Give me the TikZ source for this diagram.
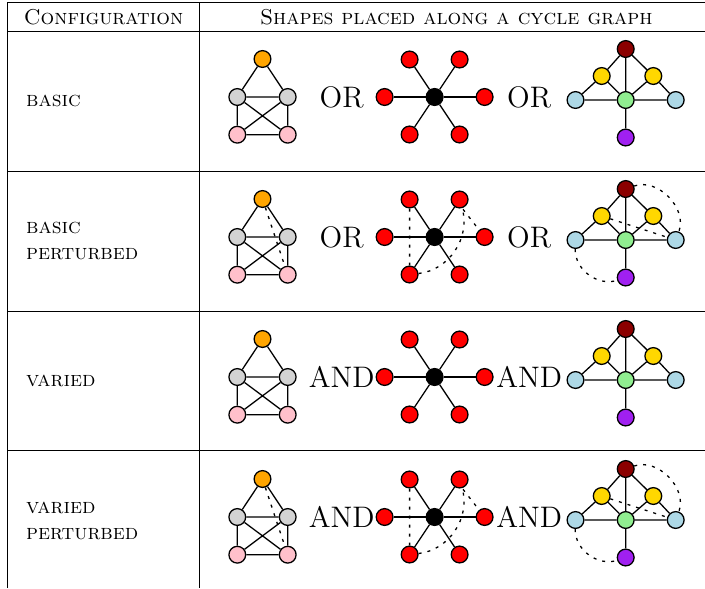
\documentclass[tikz,border=0pt]{standalone}
\usepackage{tikz}
\usepackage{xcolor}
\usetikzlibrary{arrows,calc,positioning}
\definecolor{vorange}{RGB}{255,165,0}
\definecolor{vgray}{RGB}{211,211,211}
\definecolor{vpink}{RGB}{255,192,203}
\definecolor{vred}{RGB}{255,0,0}
\definecolor{vdarkred}{RGB}{139,0,0}
\definecolor{vgold}{RGB}{255,215,0}
\definecolor{vgreen}{RGB}{144,238,144}
\definecolor{vblue}{RGB}{173,216,230}
\definecolor{vpurple}{RGB}{160,32,240}
\tikzset{%
	vertex/.style    = {draw, circle, semithick, inner sep=0pt, minimum size=7.8pt},
	link/.style      = {semithick},
	extralink/.style = {semithick, dash pattern=on 1.4pt off 2.8pt},
	conj/.style      = {font=\fontsize{13.8}{16}\selectfont},
	rowlabel/.style  = {anchor=west, align=left, inner sep=0pt},
	head/.style      = {anchor=base},
}
% house graph with crossed square
\newcommand{\Ghouse}[3]{%
	\begin{scope}[shift={(#1,#2)}]
		\node[vertex,fill=vorange] (#3-o)  at (0,38)       {};
		\node[vertex,fill=vgray]   (#3-gl) at (-25.2,0)    {};
		\node[vertex,fill=vgray]   (#3-gr) at (25.2,0)     {};
		\node[vertex,fill=vpink]   (#3-pl) at (-25.2,-37.7) {};
		\node[vertex,fill=vpink]   (#3-pr) at (25.2,-37.7)  {};
		\draw[link] (#3-gl) -- (#3-o) -- (#3-gr) -- (#3-gl) -- (#3-pl) -- (#3-pr) -- (#3-gr);
		\draw[link] (#3-gl) -- (#3-pr) (#3-gr) -- (#3-pl);
	\end{scope}}
% star graph
\newcommand{\Gstar}[3]{%
	\begin{scope}[shift={(#1,#2)}]
		\node[vertex,fill=black] (#3-c) at (0,0) {};
		\foreach \pos/\px/\py in {l/-50/0,r/50/0,tl/-25/37.5,tr/25/37.5,bl/-25/-37.5,br/25/-37.5}
			{\node[vertex,fill=vred] (#3-\pos) at (\px,\py) {}; \draw[link] (#3-c) -- (#3-\pos);}
	\end{scope}}
% tent graph
\newcommand{\Gtent}[3]{%
	\begin{scope}[shift={(#1,#2)}]
		\node[vertex,fill=vdarkred] (#3-t)  at (0,51)    {};
		\node[vertex,fill=vgold]    (#3-yl) at (-24,24)  {};
		\node[vertex,fill=vgold]    (#3-yr) at (27.6,24) {};
		\node[vertex,fill=vgreen]   (#3-g)  at (0,0)     {};
		\node[vertex,fill=vblue]    (#3-bl) at (-50.2,0) {};
		\node[vertex,fill=vblue]    (#3-br) at (50,0)    {};
		\node[vertex,fill=vpurple]  (#3-p)  at (0,-37.5) {};
		\draw[link] (#3-bl) -- (#3-yl) -- (#3-t) -- (#3-yr) -- (#3-br) -- (#3-g) -- (#3-bl);
		\draw[link] (#3-t) -- (#3-g) -- (#3-p) (#3-yl) -- (#3-g) -- (#3-yr);
	\end{scope}}
% perturbation edges of row #1
\newcommand{\Pert}[1]{%
	\draw[extralink] (a#1-o) -- (a#1-pr);
	\draw[extralink] (b#1-tl) -- (b#1-bl) to[bend right=50] (b#1-tr) -- (b#1-r);
	\draw[extralink] (c#1-t) to[bend left=65] (c#1-br) (c#1-yl) -- (c#1-br) (c#1-bl) to[bend right=55] (c#1-p);}

\begin{document}
\begin{tikzpicture}[x=0.4651pt,y=0.4651pt]
	\useasboundingbox (0,0) rectangle (705,-588);
	% table rules
	\draw (7.3,-588) |- (705,-2.7);
	\draw (199,-2.7) -- (199,-588);
	\foreach \ys in {31.7,171.3,311,450.7} \draw (7.3,-\ys) -- (705,-\ys);
	
	% header
	\node[head] (hcfg) at (103.5,-24) {\textsc{Configuration}};
	\node[head] (hshp) at (456.3,-24) {\textsc{Shapes placed along a cycle graph}};
	
	% row labels
	\node[rowlabel] (lab0) at (25.7,-101) {\textsc{basic}};
	\node[rowlabel] (lab1) at (25.7,-241) {\textsc{basic}\\\textsc{perturbed}};
	\node[rowlabel] (lab2) at (25.7,-381) {\textsc{varied}};
	\node[rowlabel] (lab3) at (25.7,-521) {\textsc{varied}\\\textsc{perturbed}};
	
	% graphs of each row
	\foreach \rw/\cw in {0/OR,1/OR,2/AND,3/AND} {
		\pgfmathsetmacro{\yy}{-97-140*\rw}
		\Ghouse{262.5}{\yy}{a\rw}
		\node[conj] (ca\rw) at (341.7,\yy) {\cw};
		\Gstar{434.6}{\yy}{b\rw}
		\node[conj] (cb\rw) at (529.2,\yy) {\cw};
		\Gtent{625.7}{\yy-3}{c\rw}
	}
	
	% perturbed rows
	\Pert{1}
	\Pert{3}
\end{tikzpicture}
\end{document}
